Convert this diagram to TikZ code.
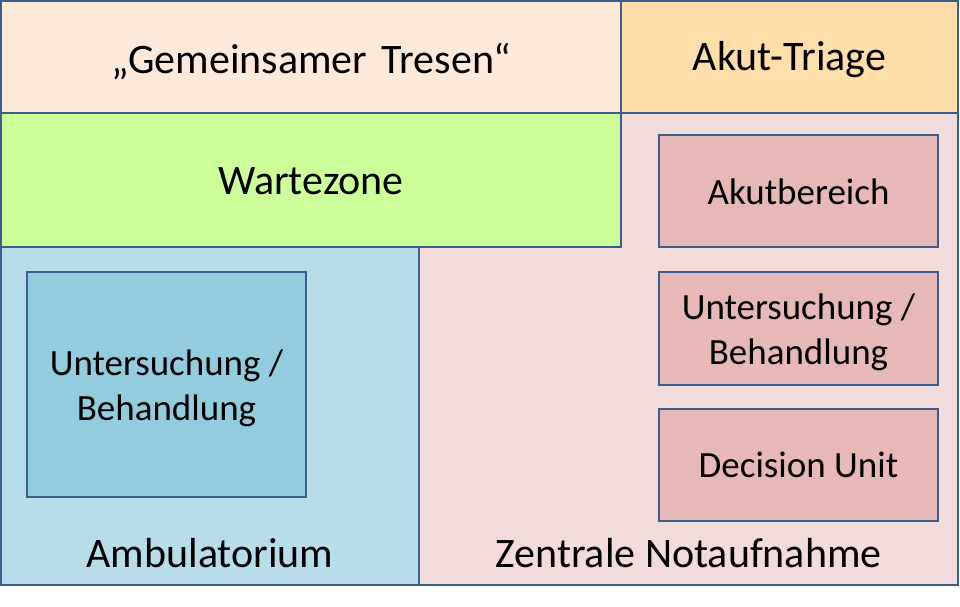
\documentclass[tikz,border=0pt]{standalone}
\usepackage{fontspec}
\setmainfont{Carlito}
\definecolor{bordc}{HTML}{3A5F8C}
\definecolor{tresenc}{HTML}{FDE9D9}
\definecolor{triagec}{HTML}{FFDEAA}
\definecolor{wartec}{HTML}{CCFF99}
\definecolor{ambc}{HTML}{B7DEE8}
\definecolor{ambinc}{HTML}{93CDDD}
\definecolor{znac}{HTML}{F2DCDB}
\definecolor{znainc}{HTML}{E6B9B8}
\tikzset{
  area/.style={draw=bordc, line width=2pt, anchor=north west, inner sep=0pt, outer sep=0pt},
  bigtxt/.style={font=\fontsize{42}{50}\selectfont, inner sep=0pt},
  smalltxt/.style={font=\fontsize{37}{45}\selectfont, align=center, inner sep=0pt},
}
\begin{document}
\begin{tikzpicture}[x=1pt,y=-1pt]
\useasboundingbox (0,0) rectangle (960,606);
% Zentrale Notaufnahme (L-shape)
\path[draw=bordc, line width=2pt, fill=znac] (419,247) -- (621,247) -- (621,113) -- (958,113) -- (958,585) -- (419,585) -- cycle;
\coordinate (znalbl) at (688.5,553);
% top row
\node[area, fill=tresenc, minimum width=620pt, minimum height=112pt] (tresen) at (1,1) {};
\node[area, fill=triagec, minimum width=337pt, minimum height=112pt] (triage) at (621,1) {};
\node[area, fill=wartec, minimum width=620pt, minimum height=134pt] (warte) at (1,113) {};
\node[area, fill=ambc, minimum width=418pt, minimum height=338pt] (amb) at (1,247) {};
% inner boxes
\node[area, fill=ambinc, minimum width=279pt, minimum height=225pt] (ambunt) at (27,272) {};
\node[area, fill=znainc, minimum width=279pt, minimum height=112pt] (akut) at (659,135) {};
\node[area, fill=znainc, minimum width=279pt, minimum height=113pt] (znaunt) at (659,272) {};
\node[area, fill=znainc, minimum width=279pt, minimum height=112pt] (dec) at (659,409) {};
% texts
\node[bigtxt, yshift=-4pt] (tresentxt) at (tresen.center) {„Gemeinsamer\hspace{0.12em} Tresen“};
\node[bigtxt, yshift=-3pt] (triagetxt) at (triage.center) {Akut-Triage};
\node[bigtxt, yshift=-1pt] (wartetxt) at (warte.center) {Wartezone};
\node[bigtxt] (ambtxt) at (210,553) {Ambulatorium};
\node[bigtxt] (znatxt) at (znalbl) {Zentrale Notaufnahme};
\node[smalltxt, yshift=-4pt] (ambunttxt) at (ambunt.center) {Untersuchung /\\Behandlung};
\node[smalltxt, yshift=-1pt] (akuttxt) at (akut.center) {Akutbereich};
\node[smalltxt, yshift=-4pt] (znaunttxt) at (znaunt.center) {Untersuchung /\\Behandlung};
\node[smalltxt] (dectxt) at (dec.center) {Decision Unit};
\end{tikzpicture}
\end{document}
